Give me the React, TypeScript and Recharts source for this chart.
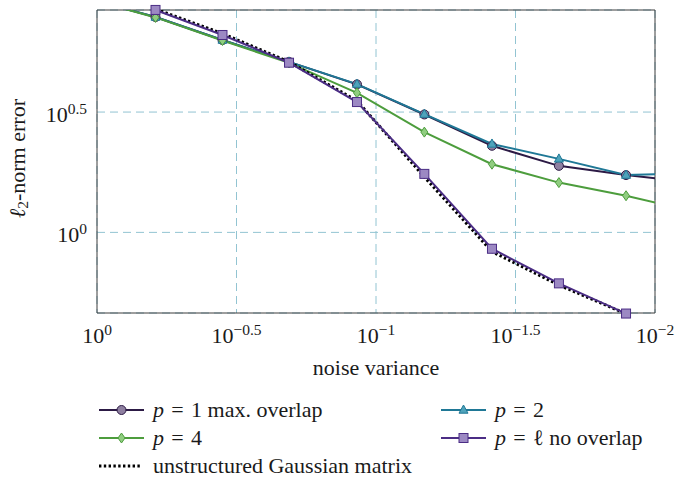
import React from "react";
import {
  CartesianGrid,
  Label,
  Line,
  LineChart,
  ReferenceArea,
  XAxis,
  YAxis,
} from "recharts";

// noise variance (x) and l2-norm error per configuration
const noiseVariance = [1.072, 0.617, 0.355, 0.205, 0.117, 0.0671, 0.0384, 0.0221, 0.0127, 0.0073];
const errP1 = [9.33, 7.85, 6.3, 5.11, 4.12, 3.09, 2.29, 1.89, 1.73, 1.61];
const errP2 = [9.33, 7.85, 6.3, 5.11, 4.13, 3.1, 2.33, 2.02, 1.73, 1.76];
const errP4 = [9.33, 7.82, 6.27, 5.06, 3.8, 2.61, 1.92, 1.61, 1.42, 1.22];
const errPl = [10.66, 8.4, 6.61, 5.07, 3.48, 1.75, 0.855, 0.614, 0.46, 0.347];
const errGauss = [10.66, 8.47, 6.7, 5.11, 3.52, 1.7, 0.832, 0.604, 0.459, 0.347];

const xTickExponents = [0, -0.5, -1, -1.5, -2];
const yTickExponents = [0, 0.5];
const xDomain: [number, number] = [0.01, 1];
const yDomain: [number, number] = [0.4624, 8.395];

const data = noiseVariance.map((v, i) => ({
  v,
  p1: errP1[i],
  p2: errP2[i],
  p4: errP4[i],
  pl: errPl[i],
  gauss: errGauss[i],
}));

const FONT = "'Liberation Serif', 'DejaVu Serif', serif";
const TEXT = "#1a1a1a";
const FS = 22;

const colors = {
  p1: { line: "#2c1a45", fill: "#8e7fa0" },
  p2: { line: "#1f7896", fill: "#4fa3bb" },
  p4: { line: "#4d9d3d", fill: "#90cd80" },
  pl: { line: "#4b2d85", fill: "#9c89c3" },
};

type Shape = "circle" | "triangle" | "diamond" | "square";

function Marker({ shape, cx, cy, line, fill }: { shape: Shape; cx: number; cy: number; line: string; fill: string }) {
  if (shape === "circle") return <circle cx={cx} cy={cy} r={4.5} fill={fill} stroke={line} strokeWidth={1} />;
  if (shape === "triangle")
    return (
      <polygon
        points={`${cx},${cy - 5} ${cx - 4.5},${cy + 3.2} ${cx + 4.5},${cy + 3.2}`}
        fill={fill}
        stroke={line}
        strokeWidth={1}
      />
    );
  if (shape === "diamond")
    return (
      <polygon
        points={`${cx},${cy - 5} ${cx + 3.5},${cy} ${cx},${cy + 5} ${cx - 3.5},${cy}`}
        fill={fill}
        stroke={line}
        strokeWidth={1}
      />
    );
  return <rect x={cx - 4.5} y={cy - 4.5} width={9} height={9} fill={fill} stroke={line} strokeWidth={1} />;
}

const makeDot = (shape: Shape, c: { line: string; fill: string }) => (props: any) => {
  const { cx, cy, index, payload } = props;
  const inside = payload && payload.v <= xDomain[1] && payload.v >= xDomain[0];
  if (cx == null || cy == null || !inside) return <g key={`d-${shape}-${index}`} />;
  return (
    <g key={`d-${shape}-${index}`}>
      <Marker shape={shape} cx={cx} cy={cy} line={c.line} fill={c.fill} />
    </g>
  );
};

function PowerTick({ x, y, payload, anchor, dx, dy }: any) {
  const exp = Math.round(Math.log10(payload.value) * 2) / 2;
  const expText = (exp < 0 ? "\u2212" : "") + Math.abs(exp);
  return (
    <text x={x + dx} y={y + dy} textAnchor={anchor} fontFamily={FONT} fontSize={FS} fill={TEXT}>
      10
      <tspan dy={-8} fontSize={15.5}>
        {expText}
      </tspan>
    </text>
  );
}

function YTitle({ viewBox }: any) {
  const x = viewBox.x + 17;
  const y = viewBox.y + viewBox.height / 2 - 3;
  return (
    <text
      x={x}
      y={y}
      transform={`rotate(-90 ${x} ${y})`}
      textAnchor="middle"
      dominantBaseline="central"
      fontFamily={FONT}
      fontSize={FS}
      fill={TEXT}
    >
      <tspan fontStyle="italic">ℓ</tspan>
      <tspan dy={5} fontSize={15.5}>
        2
      </tspan>
      <tspan dy={-5}>-norm error</tspan>
    </text>
  );
}

function LegendItem({
  left,
  top,
  shape,
  c,
  dotted,
  children,
}: {
  left: number;
  top: number;
  shape?: Shape;
  c?: { line: string; fill: string };
  dotted?: boolean;
  children: React.ReactNode;
}) {
  return (
    <div
      style={{
        position: "absolute",
        left,
        top: top - 13,
        height: 26,
        display: "flex",
        alignItems: "center",
        fontFamily: FONT,
        fontSize: FS,
        color: TEXT,
        whiteSpace: "nowrap",
      }}
    >
      <svg width={47} height={14} style={{ marginRight: 8 }}>
        {dotted ? (
          <line x1={1} y1={7} x2={44} y2={7} stroke="#000" strokeWidth={3} strokeDasharray="2.4 2.4" />
        ) : (
          <>
            <line x1={1} y1={7} x2={46} y2={7} stroke={c!.line} strokeWidth={2} />
            <Marker shape={shape!} cx={23.5} cy={7} line={c!.line} fill={c!.fill} />
          </>
        )}
      </svg>
      <span>{children}</span>
    </div>
  );
}

const eq = "\u2004=\u2004";

export default function App() {
  return (
    <div style={{ position: "absolute", left: 0, top: 0, width: 678, height: 480, background: "#fff" }}>
      <style>{`.recharts-line-dots{clip-path:none !important;}`}</style>
      <LineChart width={678} height={390} data={data} margin={{ top: 10, right: 23, bottom: 0, left: 0 }}>
        <CartesianGrid stroke="#92c4d2" strokeDasharray="8 5" strokeWidth={1} />
        <XAxis
          dataKey="v"
          type="number"
          scale="log"
          domain={xDomain}
          reversed
          allowDataOverflow
          ticks={xTickExponents.map((e) => Math.pow(10, e))}
          tick={(props: any) => <PowerTick {...props} anchor="middle" dx={0} dy={22} />}
          tickLine={false}
          axisLine={false}
          height={77}
          interval={0}
        >
          <Label
            value="noise variance"
            position="insideBottom"
            offset={15}
            style={{ fontFamily: FONT, fontSize: FS, fill: TEXT }}
          />
        </XAxis>
        <YAxis
          type="number"
          scale="log"
          domain={yDomain}
          allowDataOverflow
          ticks={yTickExponents.map((e) => Math.pow(10, e))}
          tick={(props: any) => <PowerTick {...props} anchor="end" dx={-2} dy={10} />}
          tickLine={false}
          axisLine={false}
          width={97}
          interval={0}
        >
          <Label content={<YTitle />} />
        </YAxis>
        <ReferenceArea
          x1={xDomain[1]}
          x2={xDomain[0]}
          y1={yDomain[0]}
          y2={yDomain[1]}
          fill="none"
          stroke="#3d3d3d"
          strokeWidth={1}
          fillOpacity={0}
        />
        <Line
          dataKey="p1"
          type="linear"
          stroke={colors.p1.line}
          strokeWidth={2}
          dot={makeDot("circle", colors.p1)}
          activeDot={false}
          isAnimationActive={false}
        />
        <Line
          dataKey="p2"
          type="linear"
          stroke={colors.p2.line}
          strokeWidth={2}
          dot={makeDot("triangle", colors.p2)}
          activeDot={false}
          isAnimationActive={false}
        />
        <Line
          dataKey="p4"
          type="linear"
          stroke={colors.p4.line}
          strokeWidth={2}
          dot={makeDot("diamond", colors.p4)}
          activeDot={false}
          isAnimationActive={false}
        />
        <Line
          dataKey="gauss"
          type="linear"
          stroke="#000"
          strokeWidth={3}
          strokeDasharray="2.4 2.4"
          dot={false}
          activeDot={false}
          isAnimationActive={false}
        />
        <Line
          dataKey="pl"
          type="linear"
          stroke={colors.pl.line}
          strokeWidth={2}
          dot={makeDot("square", colors.pl)}
          activeDot={false}
          isAnimationActive={false}
        />
      </LineChart>

      <LegendItem left={98} top={410} shape="circle" c={colors.p1}>
        <i>p</i>
        {eq}1 max. overlap
      </LegendItem>
      <LegendItem left={440} top={410} shape="triangle" c={colors.p2}>
        <i>p</i>
        {eq}2
      </LegendItem>
      <LegendItem left={98} top={438} shape="diamond" c={colors.p4}>
        <i>p</i>
        {eq}4
      </LegendItem>
      <LegendItem left={440} top={438} shape="square" c={colors.pl}>
        <i>p</i>
        {eq}ℓ no overlap
      </LegendItem>
      <LegendItem left={98} top={466} dotted>
        unstructured Gaussian matrix
      </LegendItem>
    </div>
  );
}
